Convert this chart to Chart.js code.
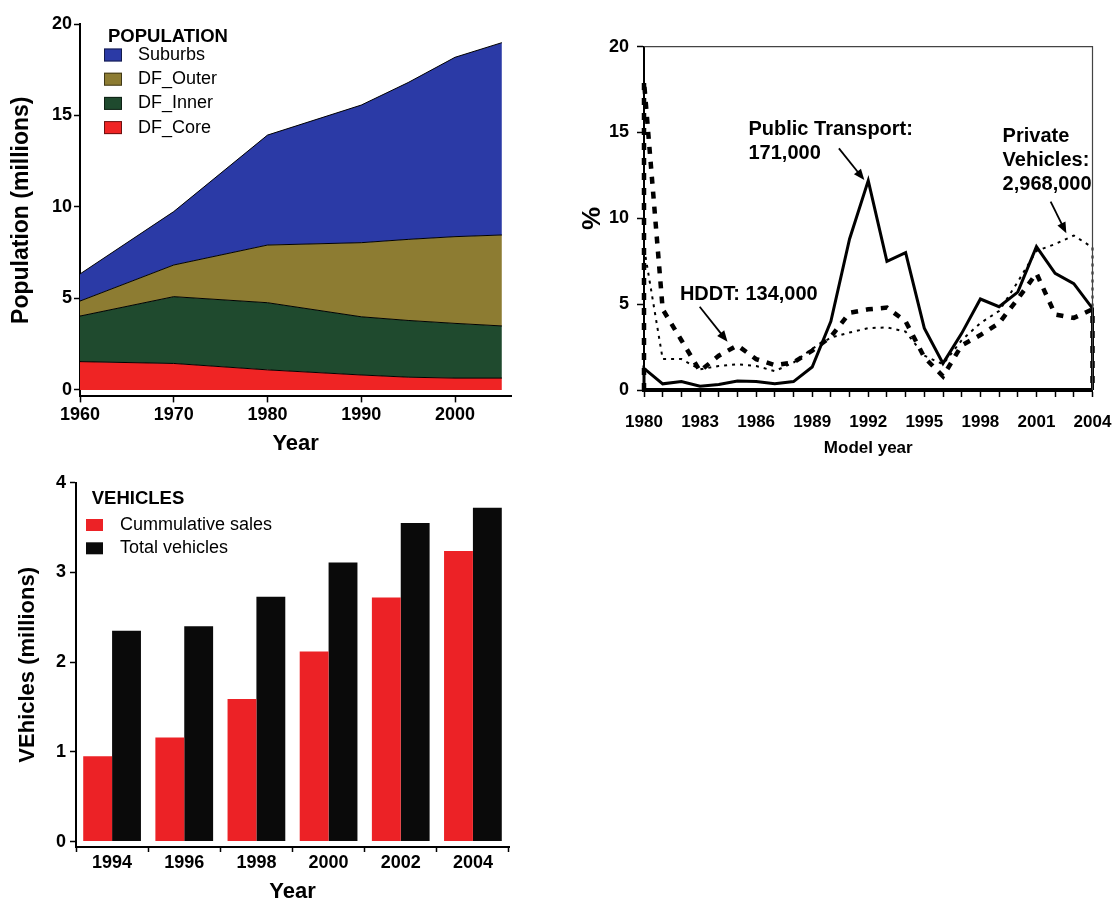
<!DOCTYPE html>
<html>
<head>
<meta charset="utf-8">
<script src="https://cdn.jsdelivr.net/npm/chart.js@4.4.1/dist/chart.umd.min.js"></script>
<style>
  html, body { margin: 0; padding: 0; background: #fff; overflow: hidden; width: 1115px; height: 901px; }
  canvas { position: absolute; display: block; }
</style>
</head>
<body>
<canvas id="pop" width="560" height="460" style="left:0;top:0"></canvas>
<canvas id="share" width="555" height="470" style="left:560px;top:0"></canvas>
<canvas id="veh" width="560" height="445" style="left:0;top:465px"></canvas>
<script>
// ---- Population by zone (millions) ----
const popYears  = [1960, 1970, 1980, 1990, 1995, 2000, 2005];
const dfCore    = [1.55, 1.45, 1.10, 0.82, 0.70, 0.65, 0.65];
const dfInner   = [2.49, 3.65, 3.67, 3.18, 3.10, 2.99, 2.85];
const dfOuter   = [0.82, 1.73, 3.15, 4.05, 4.43, 4.74, 4.97];
const suburbs   = [1.48, 2.92, 6.01, 7.52, 8.57, 9.80, 10.51];
const popXTicks = [1960, 1970, 1980, 1990, 2000];
const popYTicks = [0, 5, 10, 15, 20];

// ---- Fleet share by model year (%) ----
const modelYears      = [1980, 1981, 1982, 1983, 1984, 1985, 1986, 1987, 1988, 1989, 1990, 1991, 1992,
                         1993, 1994, 1995, 1996, 1997, 1998, 1999, 2000, 2001, 2002, 2003, 2004];
const publicTransport = [1.26, 0.36, 0.49, 0.22, 0.32, 0.52, 0.50, 0.36, 0.49, 1.34, 4.0, 8.8, 12.2,
                         7.5, 8.0, 3.6, 1.55, 3.3, 5.3, 4.85, 5.7, 8.35, 6.8, 6.2, 4.75];
const hddt            = [18.0, 4.7, 2.9, 1.1, 2.0, 2.6, 1.8, 1.45, 1.6, 2.3, 3.1, 4.5, 4.7,
                         4.8, 4.0, 1.9, 0.8, 2.6, 3.2, 3.9, 5.3, 6.8, 4.4, 4.2, 4.7];
const privateVehicles = [8.3, 1.8, 1.8, 1.2, 1.4, 1.5, 1.4, 1.1, 1.6, 2.4, 3.05, 3.35, 3.6,
                         3.65, 3.4, 2.0, 1.5, 2.9, 3.9, 4.6, 6.3, 8.1, 8.5, 9.0, 8.3];
const shareYTicks     = [0, 5, 10, 15, 20];
const shareLabelStep  = 3;

// ---- Vehicles (millions) ----
const vehYears        = ['1994', '1996', '1998', '2000', '2002', '2004'];
const cumulativeSales = [0.95, 1.16, 1.59, 2.12, 2.72, 3.24];
const totalVehicles   = [2.35, 2.40, 2.73, 3.11, 3.55, 3.72];
const vehYTicks       = [0, 1, 2, 3, 4];

const FONT = '"Liberation Sans", Arial, Helvetica, sans-serif';
Chart.defaults.font.family = FONT;
Chart.defaults.color = '#000';
Chart.defaults.animation = false;
Chart.defaults.devicePixelRatio = 1;

// Legend drawn inside the plot area (title + swatches)
const insetLegend = {
  id: 'insetLegend',
  afterDraw(chart, args, o) {
    if (!o || !o.title) return;
    const { ctx, chartArea } = chart;
    const x0 = chartArea.left + o.dx, y0 = chartArea.top + o.dy;
    ctx.save();
    ctx.textBaseline = 'middle';
    ctx.textAlign = 'left';
    ctx.fillStyle = '#000';
    ctx.font = `bold ${o.titleSize}px ${FONT}`;
    ctx.fillText(o.title, x0, y0);
    ctx.font = `${o.itemSize}px ${FONT}`;
    o.order.forEach((idx, k) => {
      const ds = chart.data.datasets[idx];
      const cy = y0 + o.firstGap + k * o.rowGap;
      ctx.fillStyle = ds.backgroundColor;
      ctx.fillRect(x0 + o.boxDx, cy - o.boxH / 2, o.boxW, o.boxH);
      if (o.boxBorder) {
        ctx.strokeStyle = o.boxBorder;
        ctx.lineWidth = 1;
        ctx.strokeRect(x0 + o.boxDx + 0.5, cy - o.boxH / 2 + 0.5, o.boxW - 1, o.boxH - 1);
      }
      ctx.fillStyle = '#000';
      ctx.fillText(ds.label, x0 + o.textDx, cy);
    });
    ctx.restore();
  }
};

// Thin frame on the top and right of a plot area
const plotFrame = {
  id: 'plotFrame',
  afterDatasetsDraw(chart, args, o) {
    if (!o || !o.color) return;
    const { ctx, chartArea: a } = chart;
    ctx.save();
    ctx.strokeStyle = o.color;
    ctx.lineWidth = o.width;
    ctx.beginPath();
    ctx.moveTo(a.left, a.top);
    ctx.lineTo(a.right, a.top);
    ctx.lineTo(a.right, a.bottom);
    ctx.stroke();
    ctx.restore();
  }
};

// Text callouts with arrows, placed in data units
const callouts = {
  id: 'callouts',
  afterDraw(chart, args, o) {
    if (!o || !o.items) return;
    const { ctx, scales: { x, y } } = chart;
    ctx.save();
    ctx.fillStyle = '#000';
    ctx.strokeStyle = '#000';
    ctx.font = `bold ${o.size}px ${FONT}`;
    ctx.textBaseline = 'middle';
    ctx.textAlign = 'left';
    o.items.forEach(it => {
      const tx = x.getPixelForValue(it.at[0]);
      const ty = y.getPixelForValue(it.at[1]);
      it.lines.forEach((line, k) => ctx.fillText(line, tx, ty + k * o.lineGap));
      const x1 = x.getPixelForValue(it.tail[0]), y1 = y.getPixelForValue(it.tail[1]);
      const x2 = x.getPixelForValue(it.tip[0]),  y2 = y.getPixelForValue(it.tip[1]);
      const ang = Math.atan2(y2 - y1, x2 - x1);
      const hl = 11, hw = 4.5;
      ctx.lineWidth = 1.8;
      ctx.beginPath();
      ctx.moveTo(x1, y1);
      ctx.lineTo(x2 - Math.cos(ang) * hl * 0.8, y2 - Math.sin(ang) * hl * 0.8);
      ctx.stroke();
      ctx.beginPath();
      ctx.moveTo(x2, y2);
      ctx.lineTo(x2 - Math.cos(ang) * hl - Math.sin(ang) * hw, y2 - Math.sin(ang) * hl + Math.cos(ang) * hw);
      ctx.lineTo(x2 - Math.cos(ang) * hl + Math.sin(ang) * hw, y2 - Math.sin(ang) * hl - Math.cos(ang) * hw);
      ctx.closePath();
      ctx.fill();
    });
    ctx.restore();
  }
};

const fixedTicks = list => scale => { scale.ticks = list.map(v => ({ value: v })); };
const axisGrid = (len) => ({ display: true, drawOnChartArea: false, drawTicks: true, tickLength: len, tickColor: '#000', tickWidth: 1.5 });
const pts = (xs, ys) => xs.map((x, i) => ({ x, y: ys[i] }));
// fixed axis box size; edge labels may overhang the plot area
const fitX = h => s => { s.height = h; s.paddingLeft = 0; s.paddingRight = 0; };
const fitY = w => s => { s.width = w; };

// ---------- Population stacked area ----------
new Chart(document.getElementById('pop'), {
  type: 'line',
  data: {
    datasets: [
      { label: 'DF_Core',  data: pts(popYears, dfCore),  backgroundColor: '#ef2424', fill: 'origin' },
      { label: 'DF_Inner', data: pts(popYears, dfInner), backgroundColor: '#1f4a2e', fill: '-1' },
      { label: 'DF_Outer', data: pts(popYears, dfOuter), backgroundColor: '#8d7c32', fill: '-1' },
      { label: 'Suburbs',  data: pts(popYears, suburbs), backgroundColor: '#2b3aa6', fill: '-1' }
    ]
  },
  options: {
    responsive: false,
    layout: { padding: { left: 0, top: 24, right: 48.75, bottom: 2.4 } },
    elements: { line: { borderColor: '#000', borderWidth: 1, tension: 0 }, point: { radius: 0 } },
    scales: {
      x: {
        type: 'linear', min: 1960, max: 2006,
        afterBuildTicks: fixedTicks(popXTicks),
        afterFit: fitX(61.2),
        grid: axisGrid(6),
        border: { display: true, color: '#000', width: 2 },
        ticks: { font: { size: 18, weight: 'bold' }, padding: 2, maxRotation: 0, autoSkip: false, callback: v => String(v) },
        title: { display: true, text: 'Year', font: { size: 22, weight: 'bold' }, padding: 0 }
      },
      y: {
        stacked: true, min: -0.35, max: 20,
        afterBuildTicks: fixedTicks(popYTicks),
        afterFit: fitY(80),
        grid: axisGrid(6),
        border: { display: true, color: '#000', width: 2 },
        ticks: { font: { size: 18, weight: 'bold' }, padding: 2 },
        title: { display: true, text: 'Population (millions)', font: { size: 23, weight: 'bold' }, padding: { top: 8, bottom: 0 } }
      }
    },
    plugins: {
      legend: { display: false },
      tooltip: { enabled: false },
      insetLegend: {
        title: 'POPULATION', titleSize: 18.5, itemSize: 18,
        dx: 28, dy: 13, firstGap: 18, rowGap: 24.2,
        boxDx: -4, boxW: 18, boxH: 13, textDx: 30, boxBorder: 'rgba(0,0,0,0.55)',
        order: [3, 2, 1, 0]
      }
    }
  },
  plugins: [insetLegend]
});

// ---------- Share by model year ----------
const closed = vals => [{ x: modelYears[0], y: 0 }, ...pts(modelYears, vals), { x: modelYears[modelYears.length - 1], y: 0 }];

new Chart(document.getElementById('share'), {
  type: 'line',
  data: {
    datasets: [
      { label: 'Public Transport', data: closed(publicTransport), borderColor: '#000', borderWidth: 3, borderJoinStyle: 'miter' },
      { label: 'HDDT', data: closed(hddt), borderColor: '#000', borderWidth: 4.5, borderDash: [7, 8] },
      { label: 'Private Vehicles', data: closed(privateVehicles), borderColor: '#000', borderWidth: 2, borderDash: [3, 5] }
    ]
  },
  options: {
    responsive: false,
    layout: { padding: { left: 0, top: 46.7, right: 22.5, bottom: 11.8 } },
    elements: { line: { tension: 0, fill: false }, point: { radius: 0 } },
    datasets: { line: { clip: false } },
    scales: {
      x: {
        type: 'linear', min: 1980, max: 2004,
        afterBuildTicks: fixedTicks(modelYears),
        afterFit: fitX(68.2),
        grid: axisGrid(7),
        border: { display: true, color: '#000', width: 4 },
        ticks: {
          font: { size: 17, weight: 'bold' }, padding: 15, maxRotation: 0, autoSkip: false,
          callback: v => ((v - modelYears[0]) % shareLabelStep === 0 ? String(v) : '')
        },
        title: { display: true, text: 'Model year', font: { size: 17, weight: 'bold' }, padding: 0 }
      },
      y: {
        min: 0, max: 20,
        afterBuildTicks: fixedTicks(shareYTicks),
        afterFit: fitY(84),
        grid: axisGrid(7),
        border: { display: true, color: '#000', width: 2 },
        ticks: { font: { size: 18, weight: 'bold' }, padding: 8 },
        title: { display: true, text: '%', font: { size: 26, weight: 'bold' }, padding: { top: 17, bottom: 0 } }
      }
    },
    plugins: {
      legend: { display: false },
      tooltip: { enabled: false },
      plotFrame: { color: '#444', width: 1.2 },
      callouts: {
        size: 20, lineGap: 24,
        items: [
          { lines: ['Public Transport:', '171,000'], at: [1985.59, 15.18], tail: [1990.43, 14.08], tip: [1991.79, 12.23] },
          { lines: ['HDDT: 134,000'], at: [1981.92, 5.59], tail: [1982.98, 4.85], tip: [1984.47, 2.81] },
          { lines: ['Private', 'Vehicles:', '2,968,000'], at: [1999.19, 14.75], tail: [2001.76, 10.97], tip: [2002.6, 9.13] }
        ]
      }
    }
  },
  plugins: [plotFrame, callouts]
});

// ---------- Vehicles bar chart ----------
new Chart(document.getElementById('veh'), {
  type: 'bar',
  data: {
    labels: vehYears,
    datasets: [
      { label: 'Cummulative sales', data: cumulativeSales, backgroundColor: '#ec2226' },
      { label: 'Total vehicles', data: totalVehicles, backgroundColor: '#0a0a0a' }
    ]
  },
  options: {
    responsive: false,
    layout: { padding: { left: 0, top: 17.7, right: 51, bottom: 4.4 } },
    datasets: { bar: { categoryPercentage: 0.8, barPercentage: 1.0, borderWidth: 0 } },
    scales: {
      x: {
        afterFit: fitX(58.6),
        grid: { ...axisGrid(5), offset: true },
        border: { display: true, color: '#000', width: 2 },
        ticks: { font: { size: 18, weight: 'bold' }, padding: 0, maxRotation: 0, autoSkip: false },
        title: { display: true, text: 'Year', font: { size: 22, weight: 'bold' }, padding: 0 }
      },
      y: {
        min: -0.06, max: 4,
        afterBuildTicks: fixedTicks(vehYTicks),
        afterFit: fitY(76),
        grid: axisGrid(6),
        border: { display: true, color: '#000', width: 2 },
        ticks: { font: { size: 18, weight: 'bold' }, padding: 4 },
        title: { display: true, text: 'VEhicles (millions)', font: { size: 22, weight: 'bold' }, padding: { top: 15, bottom: 0 } }
      }
    },
    plugins: {
      legend: { display: false },
      tooltip: { enabled: false },
      insetLegend: {
        title: 'VEHICLES', titleSize: 18.5, itemSize: 18,
        dx: 15.7, dy: 16.3, firstGap: 26, rowGap: 23.3,
        boxDx: -5.7, boxW: 17, boxH: 12, textDx: 28.3,
        order: [0, 1]
      }
    }
  },
  plugins: [insetLegend]
});
</script>
</body>
</html>
